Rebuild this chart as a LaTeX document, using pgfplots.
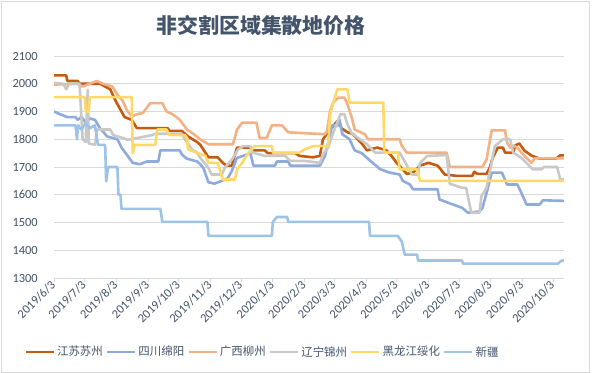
\documentclass[border=0pt]{standalone}
\usepackage{pgfplots}
\pgfplotsset{compat=1.18}
\usepackage{fontspec}
\setmainfont{Carlito}
\newfontfamily\cjk{Noto Sans CJK SC}
\definecolor{txt}{HTML}{44546A}
\definecolor{gridc}{HTML}{D9D9D9}
\definecolor{cJS}{HTML}{C55A11}
\definecolor{cSC}{HTML}{8FAADC}
\definecolor{cGX}{HTML}{F4B183}
\definecolor{cLN}{HTML}{C9C9C9}
\definecolor{cHLJ}{HTML}{FFD966}
\definecolor{cXJ}{HTML}{9DC3E6}
\begin{document}
\begin{tikzpicture}
\useasboundingbox (0,0) rectangle (594bp,-373bp);
\fill[white] (0,0) rectangle (594bp,-373bp);
\draw[gridc, line width=0.75bp] (1bp,-1bp) rectangle (589bp,-372bp);
\node[font=\cjk\bfseries\fontsize{21}{24}\selectfont, text=txt] at (261bp,-25bp) {非交割区域集散地价格};
\begin{axis}[
  at={(54bp,-278bp)}, anchor=south west,
  scale only axis, width=510bp, height=222bp,
  xmin=0, xmax=498.7, ymin=1300, ymax=2100,
  ytick={1300,1400,...,2100},
  xtick={0,30,61,92,122,153,183,214,245,274,305,335,366,396,427,458,488},
  xticklabels={2019/6/3,2019/7/3,2019/8/3,2019/9/3,2019/10/3,2019/11/3,2019/12/3,2020/1/3,2020/2/3,2020/3/3,2020/4/3,2020/5/3,2020/6/3,2020/7/3,2020/8/3,2020/9/3,2020/10/3},
  /pgf/number format/1000 sep={},
  /pgf/number format/assume math mode=true,
  axis x line*=bottom, axis y line*=left,
  separate axis lines,
  x axis line style={draw=gridc, line width=0.75bp, -},
  y axis line style={draw=none},
  ymajorgrids, grid style={draw=gridc, line width=0.75bp},
  tick align=outside,
  xtick style={draw=gridc, line width=0.75bp},
  major tick length=4bp,
  ytick style={draw=none},
  tick label style={font=\fontsize{12.5}{14}\selectfont, text=txt},
  xticklabel style={rotate=45, anchor=east, inner sep=1bp},
  yticklabel style={inner sep=0pt, xshift=-12bp},
  every axis plot/.append style={line width=2.6bp, line join=round, no markers},
  legend columns=6,
  legend style={at={(0.4088,-0.333)}, anchor=center, draw=none, fill=none,
    font=\cjk\fontsize{11.5}{13}\selectfont, text=txt,
    /tikz/every odd column/.append style={column sep=0bp},
    /tikz/every even column/.append style={column sep=1bp},
    inner sep=0pt},
  legend image code/.code={\draw[#1, line width=2.6bp] (0bp,0bp) -- (28bp,0bp);},
]
\addplot[cJS] coordinates {
(0,2030)(12,2030)(13,2010)(23,2010)(25,2000)(45,2000)(55,1980)(60,1940)(63,1920)(69,1880)(76,1870)(81,1840)(111,1840)(113,1830)(125,1830)(131,1810)(140,1790)(143,1780)(151,1735)(160,1735)(165,1715)(169,1705)(174,1705)(175,1720)(179,1770)(192,1770)(194,1760)(206,1760)(209,1750)(236,1750)(240,1740)(253,1735)(260,1740)(263,1800)(270,1835)(277,1865)(279,1865)(281,1840)(287,1825)(292,1820)(297,1800)(302,1780)(306,1760)(316,1770)(325,1760)(330,1740)(335,1715)(345,1675)(351,1680)(358,1705)(366,1715)(375,1705)(377,1697)(382,1673)(394,1668)(409,1668)(411,1683)(414,1675)(423,1675)(426,1697)(429,1733)(434,1770)(439,1770)(441,1752)(449,1752)(451,1777)(455,1785)(460,1759)(467,1741)(475,1730)(491,1730)(495,1742)(498.5,1742)};
\addlegendentry{江苏苏州}
\addplot[cSC] coordinates {
(0,1900)(6,1890)(13,1880)(21,1880)(23,1870)(27,1880)(31,1860)(35,1875)(40,1870)(45,1840)(52,1810)(62,1800)(66,1770)(71,1745)(77,1715)(84,1710)(91,1720)(102,1720)(104,1760)(123,1760)(125,1745)(130,1730)(140,1720)(143,1710)(146,1697)(151,1645)(157,1640)(164,1650)(170,1660)(174,1687)(179,1733)(185,1740)(192,1750)(195,1705)(216,1705)(218,1720)(229,1720)(231,1705)(260,1705)(265,1740)(272,1850)(278,1850)(279,1872)(282,1818)(289,1800)(294,1760)(301,1750)(309,1723)(319,1692)(328,1680)(338,1673)(341,1650)(348,1637)(351,1620)(375,1620)(377,1583)(390,1565)(399,1553)(405,1535)(416,1540)(419,1553)(421,1580)(424,1620)(428,1680)(438,1680)(443,1637)(453,1637)(457,1607)(462,1565)(475,1565)(478,1580)(498.5,1578)};
\addlegendentry{四川绵阳}
\addplot[cGX] coordinates {
(0,1997)(23,2000)(28,1990)(35,2000)(42,2010)(48,2000)(57,1990)(63,1955)(67,1940)(71,1907)(76,1882)(81,1890)(87,1895)(94,1930)(106,1930)(110,1900)(116,1890)(123,1870)(130,1835)(136,1820)(143,1800)(151,1782)(175,1782)(179,1835)(184,1860)(198,1860)(201,1805)(208,1805)(213,1850)(223,1850)(229,1825)(265,1818)(267,1830)(270,1903)(273,1932)(278,1950)(284,1950)(287,1925)(291,1880)(294,1835)(304,1818)(307,1800)(338,1800)(340,1777)(345,1752)(384,1752)(387,1700)(419,1700)(423,1728)(428,1832)(441,1832)(443,1788)(446,1770)(449,1777)(453,1770)(460,1740)(467,1715)(470,1731)(498.5,1731)};
\addlegendentry{广西柳州}
\addplot[cLN] coordinates {
(0,2003)(9,2000)(12,1980)(15,2000)(25,2000)(28,1800)(31,1790)(33,1978)(34,1785)(40,1780)(42,1835)(55,1835)(58,1815)(67,1805)(72,1798)(96,1815)(99,1820)(125,1820)(128,1800)(135,1763)(140,1752)(143,1733)(151,1697)(154,1673)(164,1673)(167,1697)(174,1727)(180,1763)(185,1775)(192,1775)(194,1752)(206,1740)(226,1740)(231,1722)(245,1722)(260,1715)(263,1745)(268,1770)(273,1823)(280,1890)(284,1890)(287,1853)(291,1823)(299,1800)(306,1782)(314,1752)(338,1752)(341,1733)(350,1673)(356,1673)(358,1715)(365,1740)(384,1743)(387,1640)(399,1625)(403,1625)(408,1535)(416,1535)(418,1595)(423,1625)(426,1680)(431,1775)(439,1800)(446,1800)(449,1752)(457,1733)(462,1715)(468,1692)(477,1692)(479,1700)(492,1700)(495,1655)(498.5,1655)};
\addlegendentry{辽宁锦州}
\addplot[cHLJ] coordinates {
(0,1952)(30,1952)(31,1900)(34,1900)(35,1952)(76,1952)(77,1750)(79,1780)(99,1780)(101,1835)(110,1835)(113,1815)(128,1815)(130,1805)(131,1763)(148,1740)(151,1715)(160,1715)(165,1655)(177,1655)(179,1692)(184,1715)(189,1745)(196,1775)(213,1775)(214,1752)(240,1752)(245,1763)(253,1775)(268,1775)(270,1890)(277,1980)(287,1980)(289,1932)(322,1932)(323,1752)(336,1752)(338,1692)(355,1692)(358,1650)(498.5,1650)};
\addlegendentry{黑龙江绥化}
\addplot[cXJ] coordinates {
(0,1850)(21,1850)(22.5,1800)(23.5,1850)(27,1835)(31,1860)(35,1840)(40,1850)(43,1780)(50,1780)(51,1648)(53,1700)(62,1700)(63,1600)(65,1600)(66,1549)(104,1549)(106,1502)(150,1502)(151,1452)(213,1452)(214,1502)(218,1520)(228,1520)(229,1502)(308,1502)(309,1452)(336,1452)(340,1432)(343,1384)(355,1384)(356,1363)(399,1363)(400,1352)(493,1352)(496,1362)(498.5,1362)};
\addlegendentry{新疆}
\end{axis}
\end{tikzpicture}
\end{document}
